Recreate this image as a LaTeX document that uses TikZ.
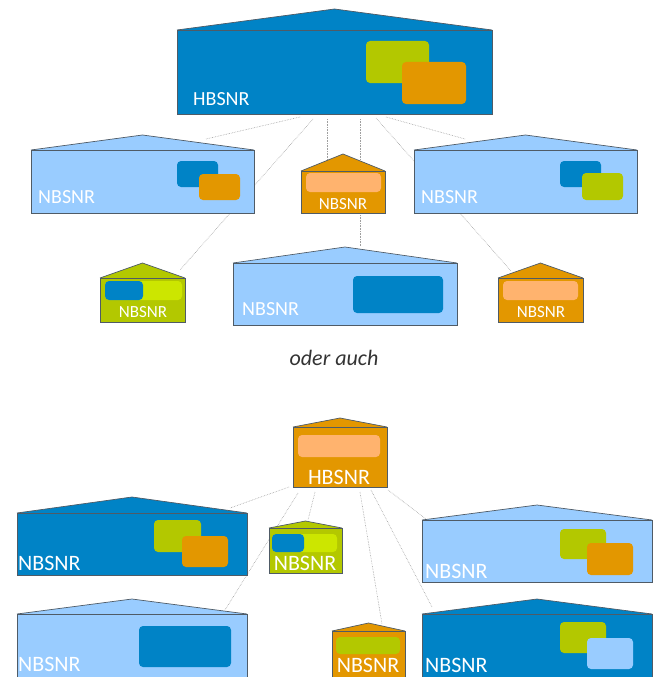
\documentclass[tikz,border=0pt]{standalone}
\usepackage{fontspec}
\setmainfont{Carlito}
\usepackage{tikz}
\usetikzlibrary{positioning}

\definecolor{dblue}{HTML}{0083C6}
\definecolor{lblue}{HTML}{99CCFF}
\definecolor{hausorange}{HTML}{E39700}
\definecolor{lorange}{HTML}{FFB36E}
\definecolor{olive}{HTML}{B3C800}
\definecolor{lime}{HTML}{CCE600}
\definecolor{edgegray}{HTML}{4F5B66}

\newcommand{\bigtxt}{\fontsize{20}{20}\selectfont}
\newcommand{\smalltxt}{\fontsize{17}{17}\selectfont}
\newcommand{\lowtxt}{\fontsize{22}{22}\selectfont}

\tikzset{
	edge/.style={draw=edgegray, line width=.7pt},
	box/.style={rounded corners=4pt},
	link/.style={gray!75, densely dotted, line width=.6pt},
	lbl/.style={text=white, inner sep=0pt, anchor=base west},
	lblc/.style={text=white, inner sep=0pt, anchor=base},
}

\begin{document}
\begin{tikzpicture}[x=1pt,y=-1pt]
		\useasboundingbox (0,0) rectangle (658,677);
		
		% house: left, top, right, bottom, roof apex y, colour
		\newcommand{\haus}[6]{%
			\draw[edge, fill=#6] (#1,#2) -- ({(#1+#3)/2},#5) -- (#3,#2);
			\draw[edge, fill=#6] (#1,#2) rectangle (#3,#4);
		}
		
		% ---- first tree: connector ends ----
		\coordinate (hb-1) at (300,117);
		\coordinate (hb-2) at (313,119);
		\coordinate (hb-3) at (327,119);
		\coordinate (hb-4) at (360,119);
		\coordinate (hb-5) at (376,118);
		\coordinate (hb-6) at (386,117);
		\coordinate (nl-roof) at (206,139);
		\coordinate (gs-roof) at (180,270);
		\coordinate (om-roof) at (327,160);
		\coordinate (bm-roof) at (360,246);
		\coordinate (os-roof) at (511,271);
		\coordinate (nr-roof) at (465,139);
		
		\draw[link] (hb-1) -- (nl-roof);
		\draw[link] (hb-2) -- (gs-roof);
		\draw[link] (hb-3) -- (om-roof);
		\draw[link] (hb-4) -- (bm-roof);
		\draw[link] (hb-5) -- (os-roof);
		\draw[link] (hb-6) -- (nr-roof);
		
		% ---- first tree: houses ----
		\haus{177}{30}{492}{114}{9}{dblue}
		\fill[olive,box] (366,41) rectangle (429,83);
		\fill[hausorange,box] (402,62) rectangle (466,104);
		\node[lbl,font=\bigtxt] (t-hb) at (193,105) {HBSNR};
		
		\haus{31}{150}{254}{213}{135}{lblue}
		\fill[dblue,box] (177,161) rectangle (218,187);
		\fill[hausorange,box] (199,174) rectangle (240,200);
		\node[lbl,font=\bigtxt] (t-nl) at (38,203) {NBSNR};
		
		\haus{414}{150}{637}{213}{135}{lblue}
		\fill[dblue,box] (560,161) rectangle (601,187);
		\fill[olive,box] (582,173) rectangle (623,200);
		\node[lbl,font=\bigtxt] (t-nr) at (421,203) {NBSNR};
		
		\haus{301}{171}{385}{213}{154}{hausorange}
		\fill[lorange,box] (306,173) rectangle (381,192);
		\node[lblc,font=\smalltxt] (t-om) at (343,209) {NBSNR};
		
		\haus{100}{278}{185}{322}{263}{olive}
		\fill[lime,box] (105,281) rectangle (182,300);
		\fill[dblue,box] (105,281) rectangle (143,300);
		\node[lblc,font=\smalltxt] (t-gs) at (143,317) {NBSNR};
		
		\haus{233}{263}{457}{325}{247}{lblue}
		\fill[dblue,box] (353,276) rectangle (443,313);
		\node[lbl,font=\bigtxt] (t-bm) at (242,315) {NBSNR};
		
		\haus{498}{278}{583}{322}{263}{hausorange}
		\fill[lorange,box] (503,281) rectangle (578,300);
		\node[lblc,font=\smalltxt] (t-os) at (541,317) {NBSNR};
		
		\node[inner sep=0pt, anchor=base, text=black!80, font=\fontsize{22}{22}\selectfont\itshape] (oder) at (334,365) {oder auch};
		
		% ---- second tree: connector ends ----
		\coordinate (hb2-1) at (289,487);
		\coordinate (hb2-2) at (298,493);
		\coordinate (hb2-3) at (315,492);
		\coordinate (hb2-4) at (360,492);
		\coordinate (hb2-5) at (371,490);
		\coordinate (hb2-6) at (388,490);
		\coordinate (ul-roof) at (230,508);
		\coordinate (ll-roof) at (225,610);
		\coordinate (g2-roof) at (308,520);
		\coordinate (o2-roof) at (382,624);
		\coordinate (lr-roof) at (432,607);
		\coordinate (ur-roof) at (426,519);
		
		\draw[link] (hb2-1) -- (ul-roof);
		\draw[link] (hb2-2) -- (ll-roof);
		\draw[link] (hb2-3) -- (g2-roof);
		\draw[link] (hb2-4) -- (o2-roof);
		\draw[link] (hb2-5) -- (lr-roof);
		\draw[link] (hb2-6) -- (ur-roof);
		
		% ---- second tree: houses ----
		\haus{293}{427}{387}{487}{418}{hausorange}
		\fill[lorange,box] (298,435) rectangle (380,457);
		\node[lblc,font=\lowtxt] (t-hb2) at (339,484) {HBSNR};
		
		\haus{17}{513}{247}{575}{497}{dblue}
		\fill[olive,box] (154,520) rectangle (201,552);
		\fill[hausorange,box] (182,536) rectangle (228,567);
		\node[lbl,font=\lowtxt] (t-ul) at (18,570) {NBSNR};
		
		\haus{269}{528}{342}{573}{521}{olive}
		\fill[lime,box] (272,534) rectangle (337,552);
		\fill[dblue,box] (272,534) rectangle (304,552);
		\node[lblc,font=\lowtxt] (t-g2) at (305,570) {NBSNR};
		
		\haus{422}{520}{652}{582}{505}{lblue}
		\fill[olive,box] (560,529) rectangle (606,559);
		\fill[hausorange,box] (587,543) rectangle (633,575);
		\node[lbl,font=\lowtxt] (t-ur) at (425,578) {NBSNR};
		
		\haus{17}{614}{247}{679}{599}{lblue}
		\fill[dblue,box] (139,626) rectangle (231,667);
		\node[lbl,font=\lowtxt] (t-ll) at (18,671) {NBSNR};
		
		\haus{332}{631}{405}{679}{623}{hausorange}
		\fill[olive,box] (336,637) rectangle (400,654);
		\node[lblc,font=\lowtxt] (t-o2) at (368,672) {NBSNR};
		
		\haus{422}{614}{652}{679}{599}{dblue}
		\fill[olive,box] (560,622) rectangle (606,653);
		\fill[lblue,box] (587,638) rectangle (633,669);
		\node[lbl,font=\lowtxt] (t-lr) at (425,672) {NBSNR};
\end{tikzpicture}
\end{document}
